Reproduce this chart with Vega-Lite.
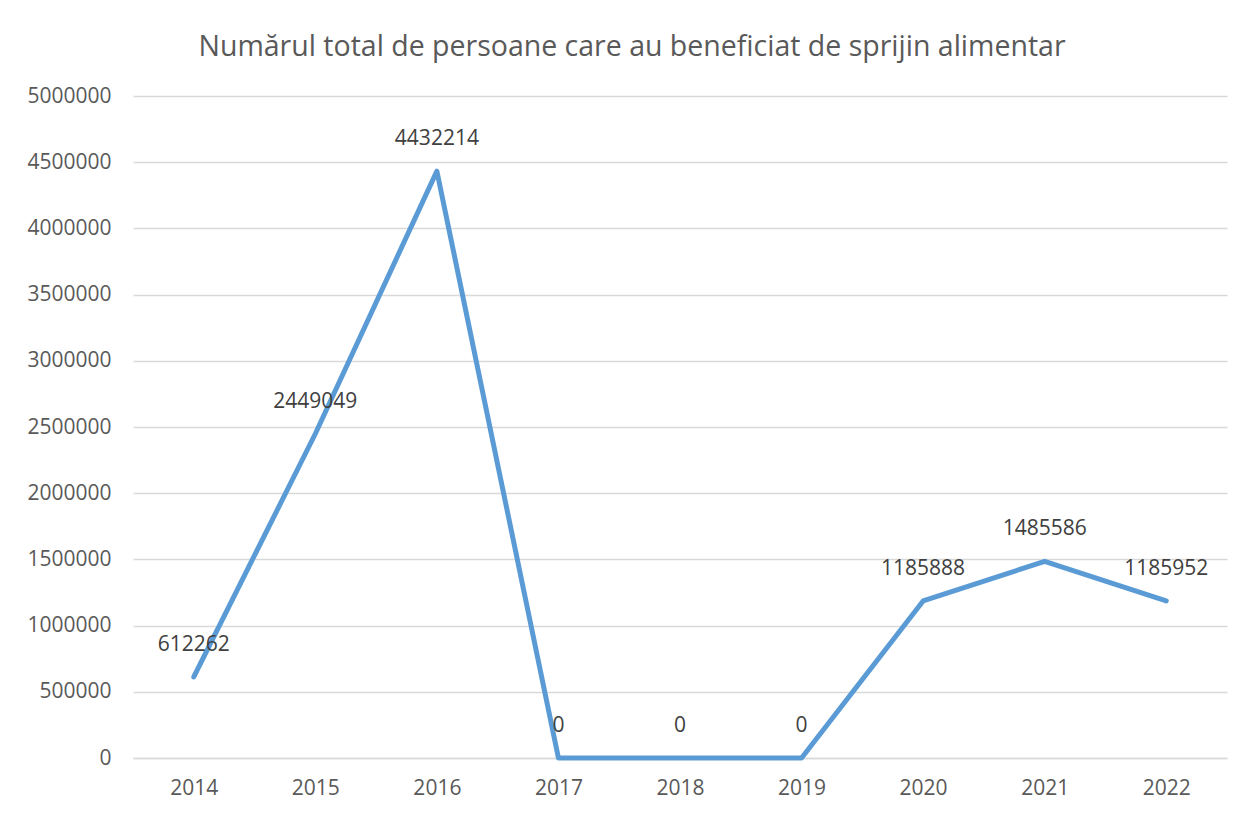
{
  "$schema": "https://vega.github.io/schema/vega-lite/v6.json",
  "width": 1094,
  "height": 662,
  "autosize": {"type": "none"},
  "padding": {"left": 133, "top": 96, "right": 23, "bottom": 57},
  "background": "white",
  "title": {
    "text": "Numărul total de persoane care au beneficiat de sprijin alimentar",
    "font": "Open Sans",
    "fontSize": 28.5,
    "fontWeight": "normal",
    "color": "#595959",
    "anchor": "middle",
    "dx": -48,
    "offset": 24
  },
  "config": {
    "view": {"stroke": null},
    "axis": {
      "labelFont": "Open Sans",
      "labelFontSize": 21,
      "labelColor": "#595959",
      "gridColor": "#d9d9d9",
      "gridWidth": 1.5,
      "ticks": false,
      "domain": false,
      "title": null
    }
  },
  "data": {
    "values": [
      {"an": "2014", "valoare": 612262},
      {"an": "2015", "valoare": 2449049},
      {"an": "2016", "valoare": 4432214},
      {"an": "2017", "valoare": 0},
      {"an": "2018", "valoare": 0},
      {"an": "2019", "valoare": 0},
      {"an": "2020", "valoare": 1185888},
      {"an": "2021", "valoare": 1485586},
      {"an": "2022", "valoare": 1185952}
    ]
  },
  "encoding": {
    "x": {
      "field": "an",
      "type": "ordinal",
      "scale": {"paddingInner": 0, "paddingOuter": 0.5},
      "axis": {"labelAngle": 0, "grid": false, "labelPadding": 19, "domain": true, "domainColor": "#d9d9d9", "domainWidth": 1.5}
    },
    "y": {
      "field": "valoare",
      "type": "quantitative",
      "scale": {"domain": [0, 5000000], "nice": false},
      "axis": {"values": [0, 500000, 1000000, 1500000, 2000000, 2500000, 3000000, 3500000, 4000000, 4500000, 5000000], "format": "d", "labelPadding": 22}
    }
  },
  "layer": [
    {
      "mark": {"type": "line", "color": "#5b9bd5", "strokeWidth": 5, "strokeCap": "round", "strokeJoin": "round"}
    },
    {
      "mark": {"type": "text", "font": "Open Sans", "fontSize": 21, "color": "#404040", "dy": -32, "baseline": "middle", "align": "center"},
      "encoding": {"text": {"field": "valoare", "type": "quantitative", "format": "d"}}
    }
  ]
}
